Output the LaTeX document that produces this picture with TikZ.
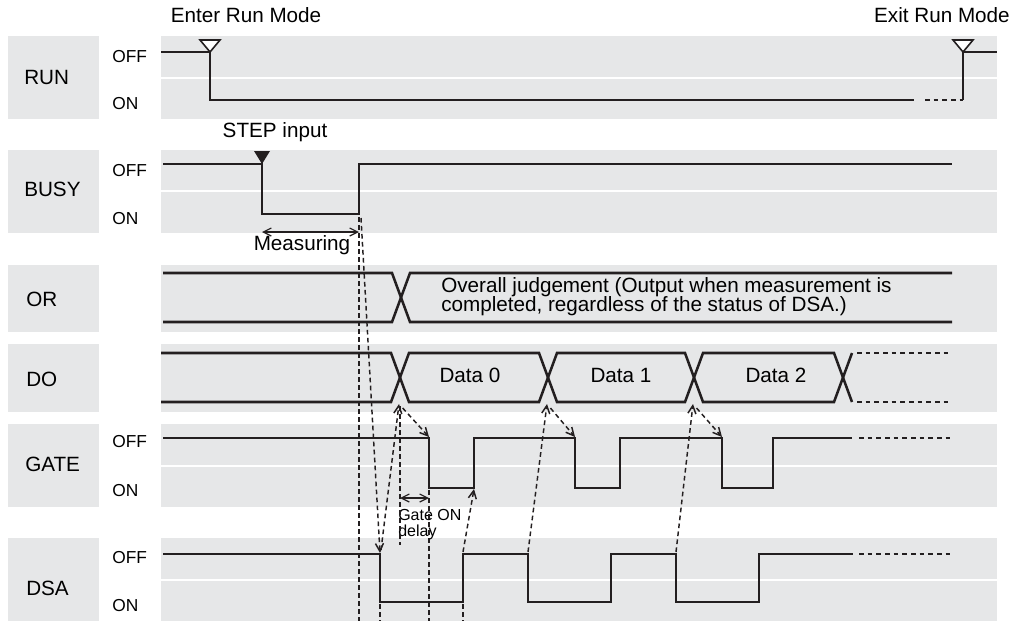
\documentclass[tikz,border=0pt]{standalone}
\usepackage{fontspec}
\setmainfont{Liberation Sans}
\usepackage{tikz}
\usetikzlibrary{arrows.meta, calc}
\definecolor{BandGrey}{HTML}{E6E7E8}
\definecolor{InkBlack}{HTML}{231F20}
\tikzset{
    % Background styles
    bandfill/.style={
        fill=BandGrey,
        draw=none
    },
    % Text styles
    rowname/.style={
        anchor=west,
        inner sep=0pt,
        font=\fontsize{15.5}{17}\selectfont
    },
    levelname/.style={
        anchor=west,
        inner sep=0pt,
        font=\fontsize{13}{15}\selectfont
    },
    caption/.style={
        anchor=base,
        inner sep=0pt,
        font=\fontsize{15.5}{17}\selectfont
    },
    % Line styles
    signal/.style={
        line width=1.9pt,
        InkBlack
    },
    signaldots/.style={
        signal,
        dash pattern=on 3.5pt off 3pt
    },
    guide/.style={
        line width=1.1pt,
        InkBlack,
        dash pattern=on 3.5pt off 2.5pt
    },
    guidearrow/.style={
        guide,
        -{Straight Barb[length=6pt,width=6pt]}
    },
    spanarrow/.style={
        line width=0.9pt,
        InkBlack,
        {Straight Barb[length=6pt,width=6pt]}-{Straight Barb[length=6pt,width=6pt]}
    }
}
\begin{document}
\begin{tikzpicture}[x=0.75pt, y=-0.75pt]
    \useasboundingbox (0,0) rectangle (1018,621);

    % Row backgrounds
    \foreach \ytop/\ymid/\ybot in {36/78/119, 150/191/233, 424/466/507, 538/580/621}{
        \fill[bandfill] (8,\ytop) rectangle (99,\ybot);
        \fill[bandfill] (161,\ytop) rectangle (997,\ymid-1);
        \fill[bandfill] (161,\ymid+1) rectangle (997,\ybot);
    }
    \foreach \ytop/\ybot in {265/332, 344/412}{
        \fill[bandfill] (8,\ytop) rectangle (99,\ybot);
        \fill[bandfill] (161,\ytop) rectangle (997,\ybot);
    }

    % Row names
    \node[rowname] (run) at (24,77) {RUN};
    \node[rowname] (busy) at (24,189) {BUSY};
    \node[rowname] (or) at (26,299) {OR};
    \node[rowname] (do) at (26,379) {DO};
    \node[rowname] (gate) at (25,464) {GATE};
    \node[rowname] (dsa) at (26,588) {DSA};

    % Levels
    \node[levelname] (runoff) at (112,57) {OFF};
    \node[levelname] (runon) at (112,104) {ON};
    \node[levelname] (busyoff) at (112,171) {OFF};
    \node[levelname] (busyon) at (112,219) {ON};
    \node[levelname] (gateoff) at (112,442) {OFF};
    \node[levelname] (gateon) at (112,491) {ON};
    \node[levelname] (dsaoff) at (112,558) {OFF};
    \node[levelname] (dsaon) at (112,606) {ON};

    % Captions
    \node[caption] (enter) at (246,22) {Enter Run Mode};
    \node[caption, anchor=base east] (exit) at (1010,22) {Exit Run Mode};
    \node[caption] (step) at (275,137) {STEP input};
    \node[caption] (measuring) at (302,250) {Measuring};
    \node[caption, anchor=north west, align=left, font=\fontsize{15.5}{14.5}\selectfont]
        (overall) at (441,277) {Overall judgement (Output when measurement is\\completed, regardless of the status of DSA.)};
    \node[caption] (data0) at (470,382) {Data 0};
    \node[caption] (data1) at (621,382) {Data 1};
    \node[caption] (data2) at (776,382) {Data 2};
    \node[caption, anchor=north west, align=left, font=\fontsize{12}{12}\selectfont]
        (delay) at (398,509) {Gate ON\\delay};

    % RUN
    \draw[signal] (161,52) -- (210,52) -- (210,100) -- (914,100);
    \draw[signaldots] (925,100) -- (963,100);
    \draw[signal] (963,100) -- (963,52) -- (997,52);
    \draw[line width=1.2pt, InkBlack, fill=white] (200,40) -- (220,40) -- (210,52) -- cycle;
    \draw[line width=1.2pt, InkBlack, fill=white] (953,40) -- (973,40) -- (963,52) -- cycle;

    % BUSY
    \draw[signal] (163,164) -- (262,164) -- (262,214) -- (359,214) -- (359,164) -- (952,164);
    \fill[InkBlack] (254,151) -- (270,151) -- (262,164) -- cycle;

    % OR
    \draw[signal] (163,273) -- (392,273) -- (410,322) -- (952,322);
    \draw[signal] (163,322) -- (392,322) -- (410,273) -- (952,273);

    % DO
    \draw[signal] (161,353) -- (391,353) -- (409,402) -- (539,402) -- (557,353) -- (685,353) -- (703,402) -- (834,402) -- (852,353);
    \draw[signal] (161,402) -- (391,402) -- (409,353) -- (539,353) -- (557,402) -- (685,402) -- (703,353) -- (834,353) -- (852,402);
    \draw[signaldots] (857,353) -- (952,353);
    \draw[signaldots] (857,402) -- (952,402);

    % GATE
    \draw[signal] (163,438) -- (429,438) -- (429,488) -- (474,488) -- (474,438) -- (575,438) -- (575,488) -- (620,488)
        -- (620,438) -- (722,438) -- (722,488) -- (773,488) -- (773,438) -- (852,438);
    \draw[signaldots] (859,438) -- (952,438);

    % DSA
    \draw[signal] (163,554) -- (380,554) -- (380,602) -- (463,602) -- (463,554) -- (528,554) -- (528,602) -- (611,602)
        -- (611,554) -- (676,554) -- (676,602) -- (759,602) -- (759,554) -- (853,554);
    \draw[signaldots] (859,554) -- (952,554);

    % Edges
    \coordinate (bottom) at (0,621);
    \coordinate (busydown) at (262,214);
    \coordinate (busyup) at (359,214);
    \coordinate (dox0) at (399,404);
    \coordinate (dox1) at (547,404);
    \coordinate (dox2) at (693,404);
    \coordinate (gatedown0) at (429,437);
    \coordinate (gatedown1) at (575,437);
    \coordinate (gatedown2) at (722,437);
    \coordinate (gateup0) at (474,489);
    \coordinate (dsadown0) at (380,553);
    \coordinate (dsaup0) at (463,554);
    \coordinate (dsadown1) at (528,554);
    \coordinate (dsadown2) at (676,554);

    % Measuring
    \draw[spanarrow] (busydown |- 0,232) -- (busyup |- 0,232);

    % Timing guides
    \draw[guide] ($(busyup)+(0,3)$) -- (busyup |- bottom);
    \draw[guidearrow] ($(busyup)+(2,4)$) -- (dsadown0);
    \draw[guide] (380,604) -- (dsadown0 |- bottom);
    \draw[guidearrow] ($(dsadown0)+(1,-3)$) -- (dox0);
    \draw[guide] ($(dox0)+(1,2)$) -- (400,545);
    \draw[guidearrow, shorten <=4pt] (dox0) -- (gatedown0);
    \draw[guide] (429,490) -- (gatedown0 |- bottom);
    \draw[spanarrow] (400,498) -- (429,498);
    \draw[guidearrow] ($(dsaup0)+(0,-2)$) -- (gateup0);
    \draw[guide] (463,604) -- (dsaup0 |- bottom);
    \draw[guidearrow] ($(dsadown1)+(0,-2)$) -- (dox1);
    \draw[guidearrow, shorten <=4pt] (dox1) -- (gatedown1);
    \draw[guidearrow] ($(dsadown2)+(0,-2)$) -- (dox2);
    \draw[guidearrow, shorten <=4pt] (dox2) -- (gatedown2);
\end{tikzpicture}
\end{document}
